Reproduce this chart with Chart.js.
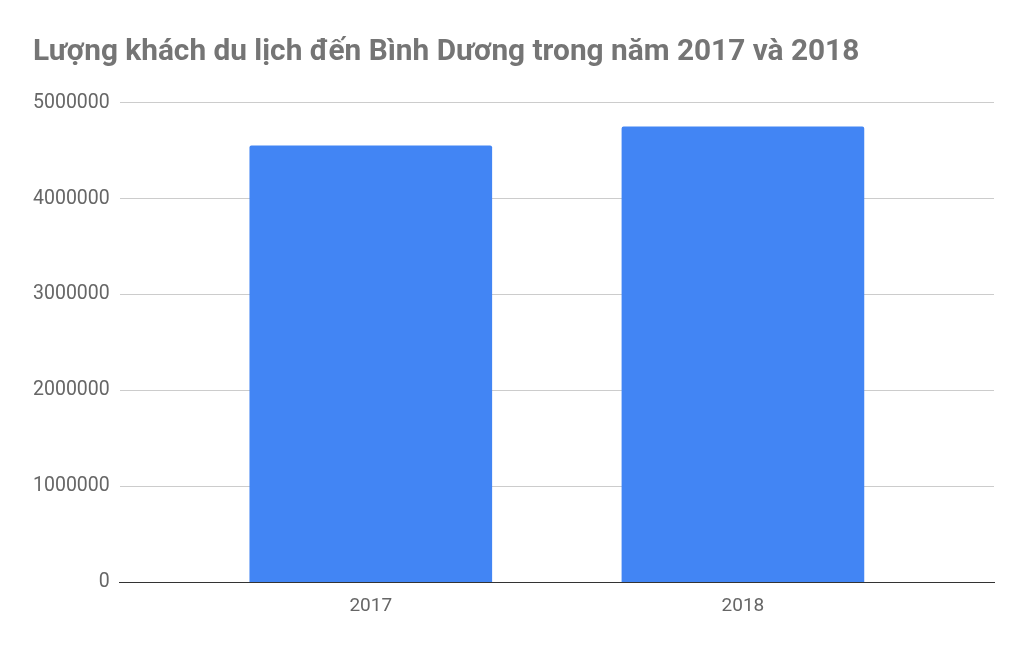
<!DOCTYPE html>
<html><head><meta charset="utf-8">
<script src="https://cdn.jsdelivr.net/npm/chart.js@4"></script>
<style>html,body{margin:0;padding:0;background:#fff}#wrap{width:1027px;height:650px}</style>
</head><body><div id="wrap"><canvas id="c"></canvas></div>
<script>
const titleText = 'Lượng khách du lịch đến Bình Dương trong năm 2017 và 2018';
const years = ['2017', '2018'];
const visitors = [4550000, 4750000];
const yTicks = [0, 1000000, 2000000, 3000000, 4000000, 5000000];

function draw() {
  new Chart(document.getElementById('c'), {
    type: 'bar',
    data: {
      datasets: [{
        data: visitors.map((v, i) => ({ x: i, y: v })),
        backgroundColor: '#4285f4',
        borderRadius: { topLeft: 2, topRight: 2 },
        borderSkipped: 'bottom',
        barThickness: 242
      }]
    },
    options: {
      responsive: true,
      maintainAspectRatio: false,
      animation: false,
      layout: { padding: { left: 33, right: 33, top: 35, bottom: 19 } },
      plugins: {
        legend: { display: false },
        tooltip: { enabled: false },
        title: {
          display: true, text: titleText, align: 'start',
          color: '#757575',
          font: { family: 'Roboto', size: 29.8, weight: 'bold' },
          padding: { top: 0, bottom: 32 }
        }
      },
      scales: {
        x: {
          type: 'linear', min: -0.6747, max: 1.6747, offset: false,
          afterBuildTicks: s => { s.ticks = years.map((_, i) => ({ value: i })); },
          ticks: {
            callback: (v) => years[v] !== undefined ? years[v] : '',
            color: '#666', font: { family: 'Roboto', size: 19 }, padding: 13,
            autoSkip: false, maxRotation: 0
          },
          grid: { display: false, drawTicks: false },
          border: { display: true, color: '#333', width: 1 }
        },
        y: {
          min: 0, max: 5000000,
          afterBuildTicks: s => { s.ticks = yTicks.map(v => ({ value: v })); },
          afterFit: s => { s.width -= 10; },
          ticks: {
            callback: v => String(v),
            color: '#666', font: { family: 'Roboto', size: 19.5 }, padding: 10
          },
          grid: { color: '#cccccc', drawTicks: false },
          border: { display: false }
        }
      }
    }
  });
}
Promise.all([
  document.fonts.load('19px Roboto'),
  document.fonts.load('bold 30px Roboto')
]).then(draw, draw);
</script></body></html>
